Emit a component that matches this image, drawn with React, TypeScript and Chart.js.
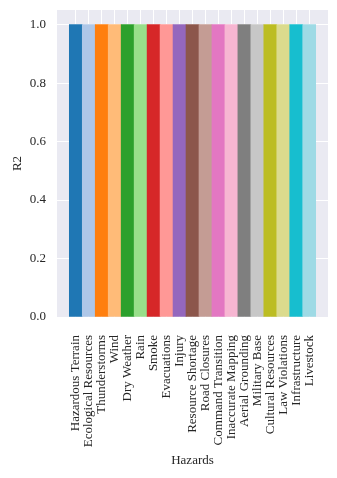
import React, { useEffect, useRef } from "react";
import { Chart, registerables } from "chart.js";

Chart.register(...registerables);

const categories: string[] = [
  "Hazardous Terrain",
  "Ecological Resources",
  "Thunderstorms",
  "Wind",
  "Dry Weather",
  "Rain",
  "Smoke",
  "Evacuations",
  "Injury",
  "Resource Shortage",
  "Road Closures",
  "Command Transition",
  "Inaccurate Mapping",
  "Aerial Grounding",
  "Military Base",
  "Cultural Resources",
  "Law Violations",
  "Infrastructure",
  "Livestock",
];

const r2Values: number[] = [1, 1, 1, 1, 1, 1, 1, 1, 1, 1, 1, 1, 1, 1, 1, 1, 1, 1, 1];

const barColors: string[] = [
  "#1f77b4", "#aec7e8", "#ff7f0e", "#ffbb78", "#2ca02c", "#98df8a",
  "#d62728", "#ff9896", "#9467bd", "#8c564b", "#c49c94", "#e377c2",
  "#f7b6d2", "#7f7f7f", "#c7c7c7", "#bcbd22", "#dbdb8d", "#17becf", "#9edae5",
];

const yTicks: number[] = [0, 0.2, 0.4, 0.6, 0.8, 1.0];

const FONT = "'Liberation Serif', 'Times New Roman', serif";
const TEXT = "#262626";

const bgPlugin = {
  id: "plotBg",
  beforeDraw(chart: any) {
    const { ctx, chartArea } = chart;
    ctx.save();
    ctx.fillStyle = "#EAEAF2";
    ctx.fillRect(chartArea.left, chartArea.top, chartArea.right - chartArea.left, chartArea.bottom - chartArea.top);
    ctx.restore();
  },
};

export default function App() {
  const ref = useRef<HTMLCanvasElement | null>(null);
  useEffect(() => {
    document.body.style.margin = "0";
    const canvas = ref.current;
    if (!canvas) return;
    const n = categories.length;
    const chart = new Chart(canvas, {
      type: "bar",
      data: {
        datasets: [
          {
            label: "R2",
            data: r2Values.map((v, i) => ({ x: i, y: v })),
            backgroundColor: barColors,
            borderWidth: 0,
            barPercentage: 1,
            categoryPercentage: 1,
          },
        ],
      },
      options: {
        responsive: false,
        animation: false,
        layout: { padding: { left: 0, right: 9, top: 10, bottom: 0 } },
        plugins: { legend: { display: false }, tooltip: { enabled: false } },
        scales: {
          x: {
            type: "linear",
            offset: false,
            min: -0.5 - 0.05 * n,
            max: n - 0.5 + 0.05 * n,
            afterFit: (s: any) => {
              s.height = 161;
              s.paddingLeft = 0;
              s.paddingRight = 0;
            },
            afterBuildTicks: (s: any) => {
              s.ticks = categories.map((_, i) => ({ value: i }));
            },
            border: { display: false },
            grid: { color: "#ffffff", lineWidth: 1, drawTicks: false, offset: false },
            ticks: {
              autoSkip: false,
              maxRotation: 90,
              minRotation: 90,
              padding: 18,
              color: TEXT,
              font: { family: FONT, size: 13 },
              callback: (v: any) => categories[Math.round(Number(v))] ?? "",
            },
            title: {
              display: true,
              text: "Hazards",
              color: TEXT,
              font: { family: FONT, size: 13 },
              padding: { top: 0, bottom: 10 },
            },
          },
          y: {
            type: "linear",
            min: 0,
            max: 1.05,
            afterFit: (s: any) => {
              s.width = 57;
              s.paddingTop = 0;
              s.paddingBottom = 0;
            },
            afterBuildTicks: (s: any) => {
              s.ticks = yTicks.map((v) => ({ value: v }));
            },
            border: { display: false },
            grid: { color: "#ffffff", lineWidth: 1, drawTicks: false },
            ticks: {
              padding: 11,
              color: TEXT,
              font: { family: FONT, size: 13 },
              callback: (v: any) => Number(v).toFixed(1),
            },
            title: {
              display: true,
              text: "R2",
              color: TEXT,
              font: { family: FONT, size: 13 },
              padding: { top: 10, bottom: 0 },
            },
          },
        },
      },
      plugins: [bgPlugin],
    });
    return () => chart.destroy();
  }, []);
  return <canvas ref={ref} width={337} height={478} style={{ display: "block" }} />;
}
